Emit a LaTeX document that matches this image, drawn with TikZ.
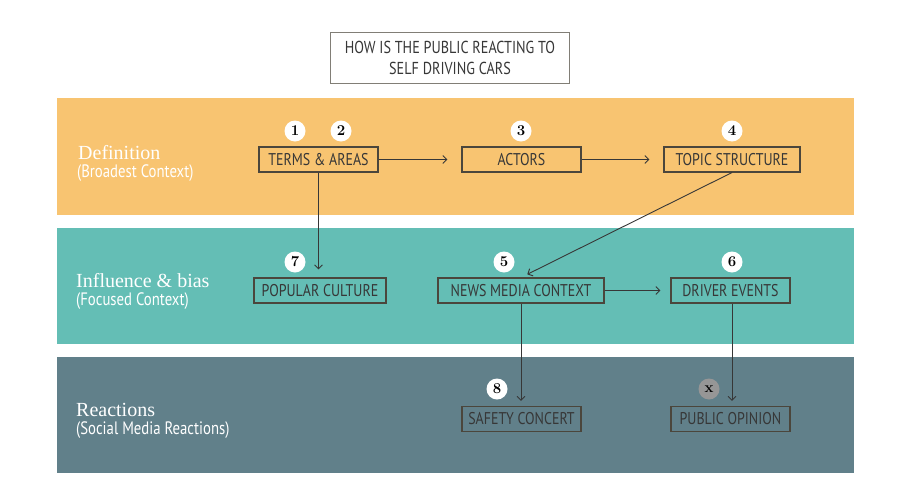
\documentclass[tikz,border=0pt]{standalone}
\usepackage{fontspec}
\usetikzlibrary{arrows.meta}
\newfontfamily\boxfont{PT Sans}[FakeStretch=0.82]
\newfontfamily\bandserif{Liberation Serif}
\definecolor{bandA}{RGB}{248,196,113}
\definecolor{bandB}{RGB}{100,190,181}
\definecolor{bandC}{RGB}{97,128,138}
\definecolor{ink}{RGB}{55,55,55}
\definecolor{edge}{RGB}{75,70,60}
\definecolor{xgray}{RGB}{150,150,150}
\tikzset{
  box/.style={draw=edge, line width=1.1pt, minimum height=25, inner sep=0pt, text=ink, font=\boxfont\fontsize{17}{19}\selectfont},
  num/.style={circle, fill=white, minimum size=21, inner sep=0pt, font=\bfseries\fontsize{15}{15}\selectfont, text=black},
  link/.style={draw=ink, line width=0.9pt, -{Straight Barb[length=4pt,width=8pt]}},
  bandtitle/.style={anchor=base west, text=white, inner sep=0pt, font=\bandserif\fontsize{20}{20}\selectfont},
  bandsub/.style={anchor=base west, text=white, inner sep=0pt, font=\boxfont\fontsize{18}{18}\selectfont}
}
\begin{document}
\begin{tikzpicture}[x=1pt,y=-1pt]
\useasboundingbox (0,0) rectangle (900,501);
\fill[white] (0,0) rectangle (900,501);
% bands
\fill[bandA] (57,98) rectangle (854,215);
\fill[bandB] (57,228) rectangle (854,344);
\fill[bandC] (57,357) rectangle (854,473);
% title
\node[draw=edge!70, line width=0.8pt, minimum width=239, minimum height=51, inner sep=0pt, text=ink, align=center,
  font=\boxfont\fontsize{17.3}{21}\selectfont] (title) at (450,58) {HOW IS THE PUBLIC REACTING TO\\SELF DRIVING CARS};
% band labels
\node[bandtitle] (t1) at (78,159.5) {Definition};
\node[bandsub] (s1) at (77,177) {(Broadest Context)};
\node[bandtitle] (t2) at (76,287.5) {Influence \& bias};
\node[bandsub] (s2) at (76,305) {(Focused Context)};
\node[bandtitle] (t3) at (76,416.5) {Reactions};
\node[bandsub] (s3) at (76,434) {(Social Media Reactions)};
% boxes
\node[box, minimum width=119] (terms) at (318.5,159.5) {TERMS \& AREAS};
\node[box, minimum width=119] (actors) at (521.5,159.5) {ACTORS};
\node[box, minimum width=136] (topic) at (732,159.5) {TOPIC STRUCTURE};
\node[box, minimum width=132] (pop) at (320,290.5) {POPULAR CULTURE};
\node[box, minimum width=166] (news) at (521,290.5) {NEWS MEDIA CONTEXT};
\node[box, minimum width=119] (driver) at (730.5,290.5) {DRIVER EVENTS};
\node[box, minimum width=119] (safety) at (521.5,419) {SAFETY CONCERT};
\node[box, minimum width=119] (public) at (730.5,419) {PUBLIC OPINION};
% numbers
\node[num] (n1) at (295,131) {1};
\node[num] (n2) at (341,131) {2};
\node[num] (n3) at (521,131) {3};
\node[num] (n4) at (732,131) {4};
\node[num] (n7) at (295,262) {7};
\node[num] (n5) at (504,262) {5};
\node[num] (n6) at (732,262) {6};
\node[num] (n8) at (497,389) {8};
\node[num, fill=xgray] (nx) at (709,389) {x};
% connectors
\draw[link, shorten >=14pt] (terms.east) -- (actors.west);
\draw[link, shorten >=14pt] (actors.east) -- (topic.west);
\draw[link, shorten >=8pt] (terms.south) -- (terms.south |- pop.north);
\draw[link, shorten >=7pt] (topic.south) -- (news.north);
\draw[link, shorten >=10pt] (news.east) -- (driver.west);
\draw[link, shorten >=5pt] (news.south) -- (news.south |- safety.north);
\draw[link, shorten >=5pt] ([xshift=1.5pt]driver.south) -- ([xshift=1.5pt]driver.south |- public.north);
\end{tikzpicture}
\end{document}
